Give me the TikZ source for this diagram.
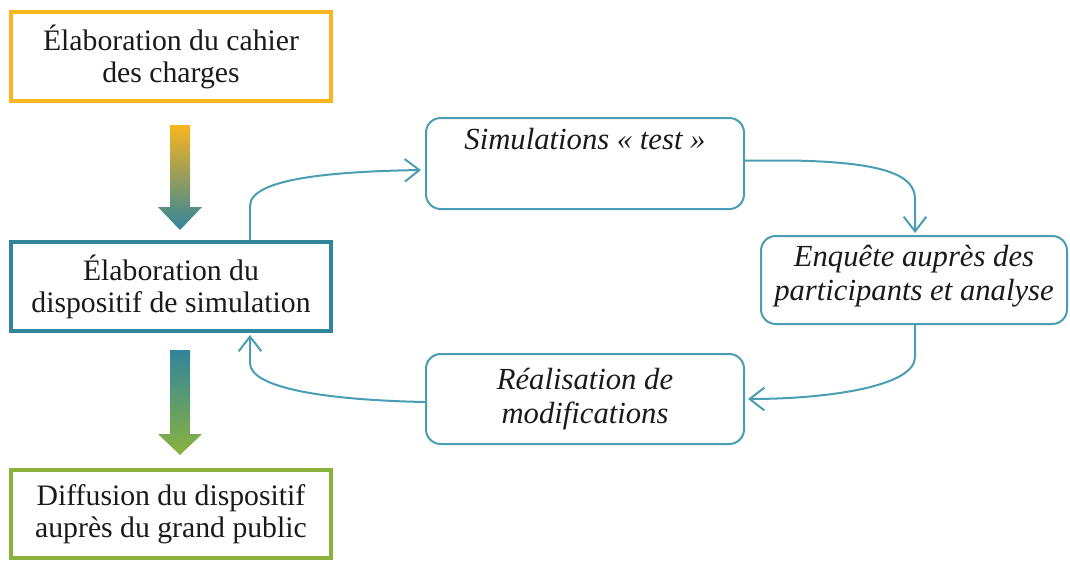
\documentclass[tikz,border=0pt]{standalone}
\usepackage{fontspec}
\setmainfont{Liberation Serif}
\usetikzlibrary{calc,arrows.meta}
\definecolor{orangeA}{HTML}{F8B51E}
\definecolor{tealA}{HTML}{31859B}
\definecolor{greenA}{HTML}{8CB23E}
\definecolor{lineA}{HTML}{4A9DB3}
\definecolor{textA}{HTML}{1A1A1A}
\tikzset{
  mainbox/.style={draw=#1, line width=3pt, fill=white, rectangle, minimum width=240pt, minimum height=66.75pt, align=center, inner sep=0pt, text=textA, font=\fontsize{22.3pt}{24pt}\selectfont},
  roundbox/.style={draw=lineA, line width=1.5pt, fill=white, rectangle, rounded corners=11pt, align=center, inner sep=0pt, text=textA, font=\fontsize{23pt}{25.5pt}\selectfont\itshape},
  flow/.style={draw=lineA, line width=1.5pt, -{Straight Barb[length=11pt,width=17pt,line width=1.5pt]}},
}
\begin{document}
\begin{tikzpicture}[x=0.75pt,y=-0.75pt]
\useasboundingbox (0,0) rectangle (1070,560);
% left column
\node[mainbox=orangeA] (b1) at (171,56.5) {Élaboration du cahier\\des charges};
\node[mainbox=tealA] (b2) at (171,286.5) {Élaboration du\\dispositif de simulation};
\node[mainbox=greenA, minimum height=66pt] (b3) at (171,514) {Diffusion du dispositif\\auprès du grand public};
% right cycle
\node[roundbox, minimum width=238.5pt, minimum height=68.25pt] (sim) at (585,163.5) {Simulations « test »\\[4pt]\strut};
\node[roundbox, minimum width=229.5pt, minimum height=66pt] (enq) at (914,280) {Enquête auprès des\\participants et analyse\\[-22pt]\strut};
\node[roundbox, minimum width=238.5pt, minimum height=67.5pt] (rea) at (585,399) {Réalisation de\\modifications};
% gradient arrows
\begin{scope}[shift={(b1.south)}]
\shade[top color=orangeA, middle color=tealA!85!orangeA, bottom color=tealA]
  (-1,22) -- (19,22) -- (19,104) -- (31,104) -- (9,127) -- (-13,104) -- (-1,104) -- cycle;
\end{scope}
\begin{scope}[shift={(b2.south)}]
\shade[top color=tealA, middle color=tealA!65!greenA, bottom color=greenA]
  (-1,17) -- (19,17) -- (19,101) -- (31,101) -- (9,122) -- (-13,101) -- (-1,101) -- cycle;
\end{scope}
% cycle connectors
\draw[flow] ($(b2.north)+(79,0)$) -- ($(b2.north)+(79,-34)$)
  .. controls ($(b2.north)+(79,-62)$) and ($(sim.west)+(-90,8)$) .. ($(sim.west)+(-4,6.5)$);
\draw[flow] ($(sim.east)+(0,-3)$) -- ($(sim.east)+(45,-3)$)
  .. controls ($(enq.north)+(-30,-73)$) and ($(enq.north)+(1,-60)$) .. ($(enq.north)+(1,-36)$) -- ($(enq.north)+(1,-2)$);
\draw[flow] ($(enq.south)+(1,0)$) -- ($(enq.south)+(1,32)$)
  .. controls ($(enq.south)+(1,62)$) and ($(rea.east)+(80,0)$) .. ($(rea.east)+(3,0)$);
\draw[flow] ($(rea.west)+(0,3)$) .. controls ($(rea.west)+(-100,1)$) and ($(b2.south)+(79,55)$) .. ($(b2.south)+(79,30)$) -- ($(b2.south)+(79,2)$);
\end{tikzpicture}
\end{document}
